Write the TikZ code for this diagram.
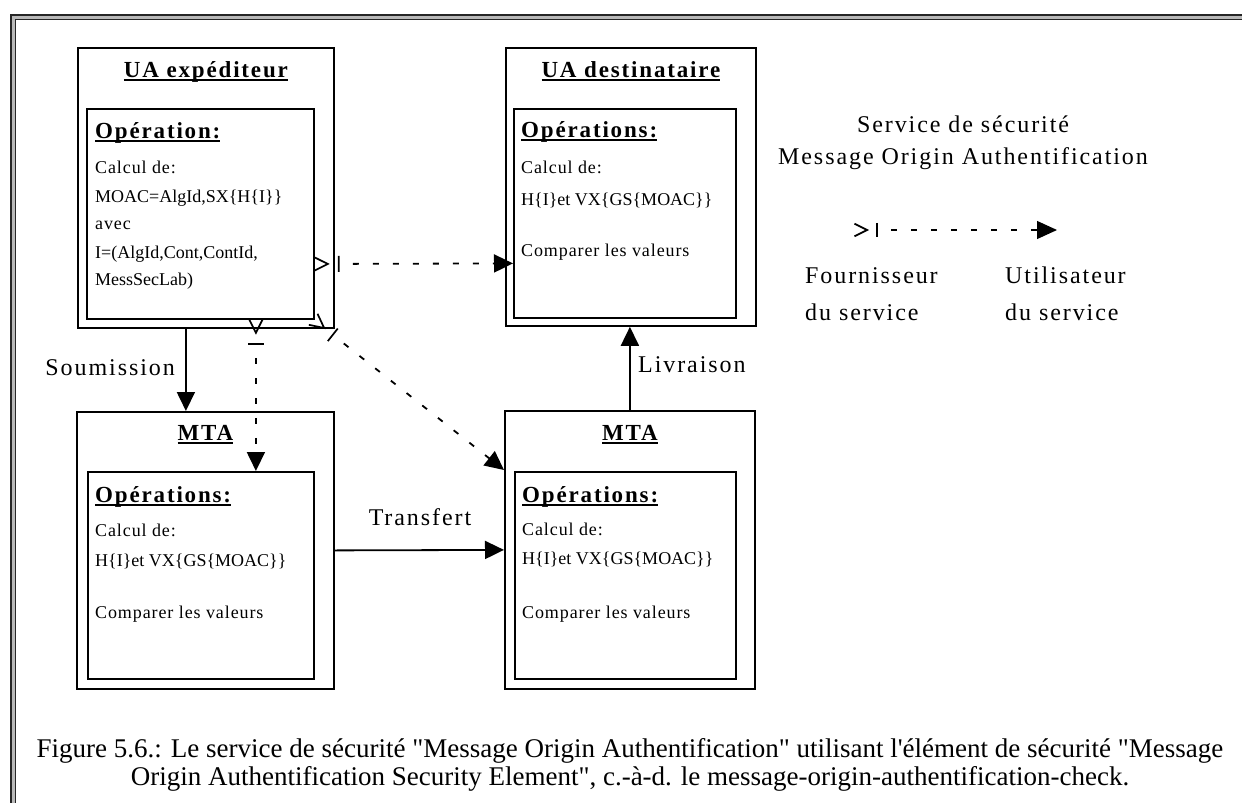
\documentclass[tikz,border=0pt]{standalone}
\usepackage{fontspec}
\setmainfont{Liberation Serif}
\newfontfamily\spacedfont[LetterSpace=8]{Liberation Serif}
\newfontfamily\loosefont[LetterSpace=5]{Liberation Serif}
\usetikzlibrary{arrows.meta,calc}

% underlined heading with a heavier rule
\newcommand\hdul[1]{\setbox0=\hbox{#1}\rlap{\rule[-3.5pt]{\wd0}{1.4pt}}\box0}
\newcommand\sq{\textquotedbl}

\begin{document}
\begin{tikzpicture}[x=1pt,y=-1pt,
  boxline/.style={draw, line width=1.8pt, anchor=north west, inner sep=0pt, minimum width=#1},
  boxline/.default=10pt,
  title/.style={anchor=base, inner sep=0pt, font=\spacedfont\bfseries\fontsize{23}{27}\selectfont},
  opshead/.style={anchor=base west, inner sep=0pt, font=\spacedfont\bfseries\fontsize{23}{27}\selectfont},
  body/.style={anchor=base west, inner sep=0pt, font=\fontsize{18}{21}\selectfont},
  loosebody/.style={body, font=\loosefont\fontsize{18}{21}\selectfont},
  label/.style={inner sep=0pt, font=\spacedfont\fontsize{24}{28}\selectfont},
  caption/.style={anchor=base, inner sep=0pt, font=\fontsize{27}{31}\selectfont},
  flow/.style={line width=1.8pt, -{Triangle[length=19pt,width=18pt]}},
  uses/.style={line width=1.8pt, dash pattern=on 6pt off 14pt, dash phase=6pt,
               -{Triangle[length=19pt,width=18pt]}},
  provider/.pic={
    \draw[line width=1.7pt, solid] (-25,-7) -- (-11,0) -- (-25,7);
    \draw[line width=1.7pt, solid] (0,-8) -- (0,8);
  }]

\useasboundingbox (0,0) rectangle (1242,803);
\fill[white] (0,0) rectangle (1242,803);

% double page frame
\draw[line width=5pt, gray!55] (13.2,803) -- (13.2,17.2) -- (1242,17.2);
\draw[line width=1.6pt, black!85] (11,803) -- (11,15) -- (1242,15);
\draw[line width=1.6pt, black!85] (15.5,803) -- (15.5,19.5) -- (1242,19.5);

% ---- boxes ----
\node[boxline=256pt, minimum height=280pt] (uae)   at (77,47)  {};
\node[boxline=227pt, minimum height=210pt] (uaei)  at (86,108) {};
\node[boxline=250pt, minimum height=278pt] (uad)   at (505,47) {};
\node[boxline=222pt, minimum height=209pt] (uadi)  at (513,108) {};
\node[boxline=257pt, minimum height=277pt] (mtal)  at (76,411) {};
\node[boxline=226pt, minimum height=207pt] (mtali) at (87,471) {};
\node[boxline=250pt, minimum height=278pt] (mtar)  at (504,410) {};
\node[boxline=221pt, minimum height=207pt] (mtari) at (514,471) {};

% ---- titles ----
\node[title] (tuae)  at ([yshift=-30pt]uae.north)  {\hdul{UA expéditeur}};
\node[title] (tuad)  at ([yshift=-30pt]uad.north)  {\hdul{UA destinataire}};
\node[title] (tmtal) at ([yshift=-29pt]mtal.north) {\hdul{MTA}};
\node[title] (tmtar) at ([yshift=-30pt]mtar.north) {\hdul{MTA}};

% ---- sender operations ----
\node[opshead]   (oe)  at ($(uaei.north west)+(9,30)$)  {\hdul{Opération:}};
\node[loosebody] (oe1) at ($(uaei.north west)+(9,65)$)  {Calcul de:};
\node[body]      (oe2) at ($(uaei.north west)+(9,94)$)  {MOAC=AlgId,SX\{H\{I\}\}};
\node[loosebody] (oe3) at ($(uaei.north west)+(9,121)$) {avec};
\node[body]      (oe4) at ($(uaei.north west)+(9,150)$) {I=(AlgId,Cont,ContId,};
\node[body]      (oe5) at ($(uaei.north west)+(9,177)$) {MessSecLab)};

% ---- recipient operations ----
\node[opshead]   (od)  at ($(uadi.north west)+(8,29)$)  {\hdul{Opérations:}};
\node[loosebody] (od1) at ($(uadi.north west)+(8,65)$)  {Calcul de:};
\node[body]      (od2) at ($(uadi.north west)+(8,97)$)  {H\{I\}et VX\{GS\{MOAC\}\}};
\node[loosebody] (od3) at ($(uadi.north west)+(8,148)$) {Comparer les valeurs};

% ---- left MTA operations ----
\node[opshead]   (ol)  at ($(mtali.north west)+(8,31)$)  {\hdul{Opérations:}};
\node[loosebody] (ol1) at ($(mtali.north west)+(8,65)$)  {Calcul de:};
\node[body]      (ol2) at ($(mtali.north west)+(8,95)$)  {H\{I\}et VX\{GS\{MOAC\}\}};
\node[loosebody] (ol3) at ($(mtali.north west)+(8,147)$) {Comparer les valeurs};

% ---- right MTA operations ----
\node[opshead]   (or)  at ($(mtari.north west)+(8,31)$)  {\hdul{Opérations:}};
\node[loosebody] (or1) at ($(mtari.north west)+(8,64)$)  {Calcul de:};
\node[body]      (or2) at ($(mtari.north west)+(8,93)$)  {H\{I\}et VX\{GS\{MOAC\}\}};
\node[loosebody] (or3) at ($(mtari.north west)+(8,147)$) {Comparer les valeurs};

% ---- message flow ----
\draw[flow] ([xshift=-20pt]uae.south) -- ([xshift=-19.5pt]mtal.north);
\node[label, anchor=base east] (lsoum) at (175,375) {Soumission};
\draw[flow] (mtal.east) -- (mtar.west);
\node[label, anchor=base] (ltrans) at (420,525) {Transfert};
\draw[flow] (mtar.north) -- (mtar.north |- uad.south);
\node[label, anchor=base west] (lliv) at (638,372) {Livraison};

% ---- service provider -> user links ----
\coordinate (h1) at ($(uaei.east)+(24,50)$);
\coordinate (h2) at ($(uadi.west)+(0,50)$);
\coordinate (v1) at ($(uae.south)+(50,15)$);
\coordinate (v2) at ($(mtali.north)+(55,0)$);
\coordinate (d1) at ($(uae.south east)+(-2,6)$);
\coordinate (d2) at ($(mtari.north west)+(-10,-1)$);

\foreach \a/\b in {h1/h2, v1/v2, d1/d2}{
  \draw[uses] (\a) -- (\b);
  \path let \p1=($(\b)-(\a)$), \n1={atan2(\y1,\x1)} in (\a) pic[rotate=\n1] {provider};
}

% ---- legend ----
\node[label, anchor=base] (lg1) at (963,132) {Service de sécurité};
\node[label, anchor=base] (lg2) at (963,164) {Message Origin Authentification};
\coordinate (la) at (877,230);
\coordinate (lb) at (1057,230);
\draw[line width=1.2pt, dash pattern=on 6pt off 14pt, dash phase=6pt,
      -{Triangle[length=20pt,width=18pt]}] (la) -- (lb);
\path (la) pic[scale=0.9] {provider};
\node[label, anchor=base west] (lf1) at (805,283) {Fournisseur};
\node[label, anchor=base west] (lf2) at (805,320) {du service};
\node[label, anchor=base west] (lu1) at (1005,283) {Utilisateur};
\node[label, anchor=base west] (lu2) at (1005,320) {du service};

% ---- caption ----
\node[caption] (cap1) at (630,757) {Figure 5.6.: Le service de sécurité \sq Message Origin Authentification\sq{} utilisant l\textquotesingle élément de sécurité \sq Message};
\node[caption] (cap2) at (630,785) {Origin Authentification Security Element\sq, c.-à-d. le message-origin-authentification-check.};

\end{tikzpicture}
\end{document}
